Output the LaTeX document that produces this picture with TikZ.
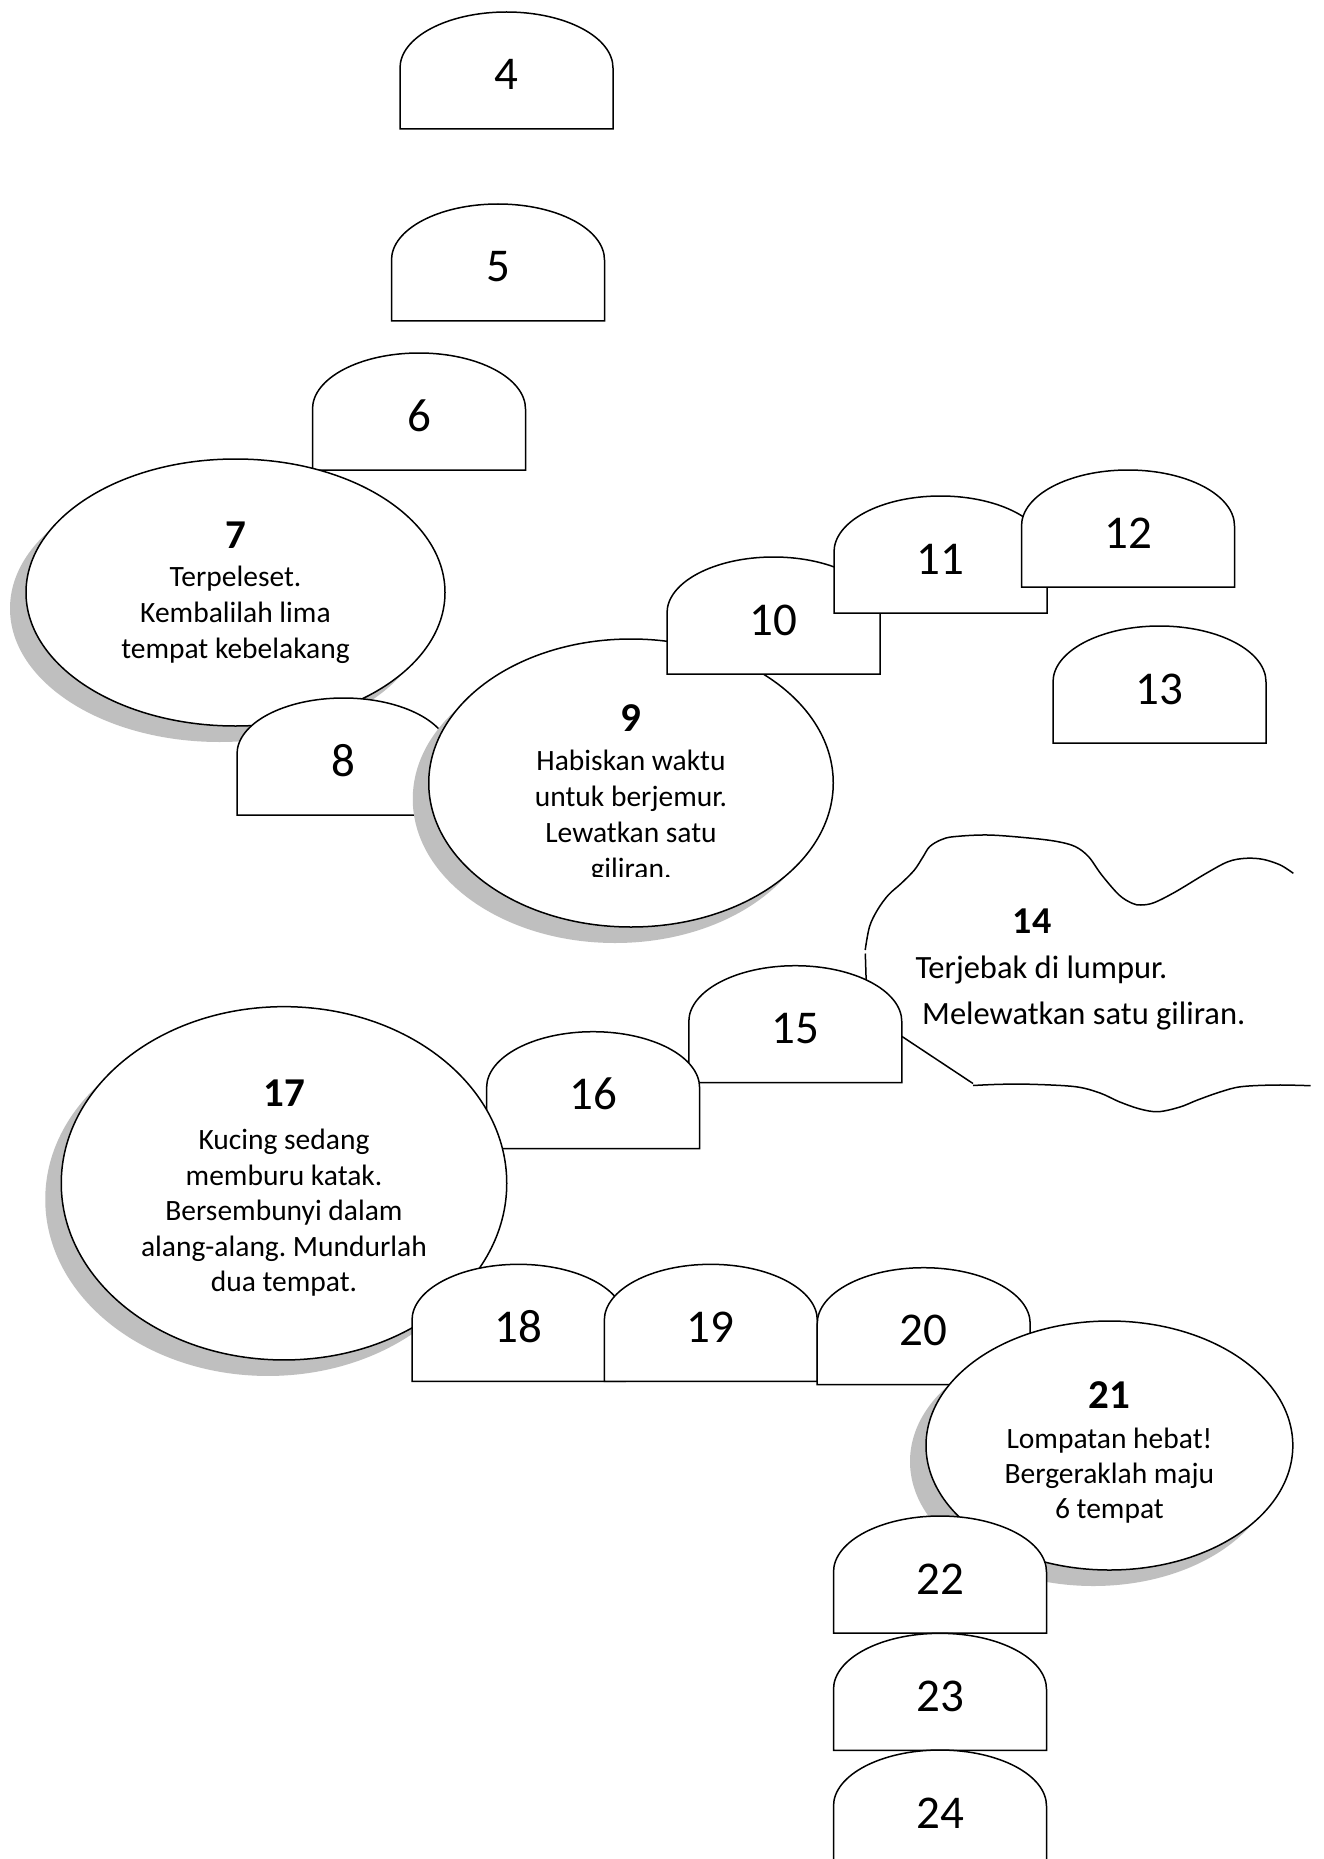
\documentclass[tikz,border=0pt]{standalone}
\usepackage{fontspec}
\setmainfont{Carlito}
\usetikzlibrary{shapes.geometric,shadows}
\definecolor{shadowgray}{RGB}{191,191,191}
\frenchspacing

\newcommand\gametab[4]{%
  \pgfmathsetmacro\tbR{#2+213}%
  \pgfmathsetmacro\tbC{#2+106.5}%
  \pgfmathsetmacro\tbB{#3+117}%
  \pgfmathsetmacro\tbS{#3+56}%
  \pgfmathsetmacro\tbK{#3+56-0.5523*56}%
  \pgfmathsetmacro\tbCL{#2+106.5-0.5523*106.5}%
  \pgfmathsetmacro\tbCR{#2+106.5+0.5523*106.5}%
  \pgfmathsetmacro\tbN{#3+78}%
  \path[outline] (#2,\tbB) -- (#2,\tbS) .. controls (#2,\tbK) and (\tbCL,#3) .. (\tbC,#3) .. controls (\tbCR,#3) and (\tbR,\tbK) .. (\tbR,\tbS) -- (\tbR,\tbB) -- cycle;
  \node[tabnum] (#1) at (\tbC,\tbN) {#4};
}

\begin{document}
\begin{tikzpicture}[x=1pt,y=-1pt,
  outline/.style={draw=black,line width=1.5pt,fill=white},
  cloudline/.style={draw=black,line width=1.5pt},
  tabnum/.style={font=\fontsize{47}{56}\selectfont,anchor=base,inner sep=0pt},
  bignum/.style={font=\bfseries\fontsize{41}{48}\selectfont,anchor=base,inner sep=0pt},
  bodytxt/.style={font=\fontsize{29.5}{35}\selectfont,anchor=base,inner sep=0pt},
  cloudtxt/.style={font=\fontsize{32.5}{38}\selectfont,anchor=base west,inner sep=0pt},
  bubble/.style={ellipse,outline,inner sep=0pt,
    drop shadow={shadow xshift=-16pt,shadow yshift=-16pt,fill=shadowgray,opacity=1}},
]
\useasboundingbox[fill=white] (0,0) rectangle (1323,1859);

% tabs 4-6
\gametab{n4}{400}{12}{4}
\gametab{n5}{391.5}{204}{5}
\gametab{n6}{312.5}{353}{6}

% bubble 7
\node[bubble,minimum width=419pt,minimum height=267pt] (e7) at (235.5,592.5) {};
\node[bignum] (t7n) at (235.5,548) {7};
\node[bodytxt] (t7a) at (235.5,586.5) {Terpeleset.};
\node[bodytxt] (t7b) at (235.5,622.5) {Kembalilah lima};
\node[bodytxt] (t7c) at (235.5,658.5) {tempat kebelakang};

\gametab{n8}{237}{698}{8}

% bubble 9
\node[bubble,minimum width=404.5pt,minimum height=288pt] (e9) at (631,783) {};
\node[bignum] (t9n) at (631,731) {9};
\node[bodytxt] (t9a) at (631,770) {Habiskan waktu};
\node[bodytxt] (t9b) at (631,806) {untuk berjemur.};
\node[bodytxt] (t9c) at (631,842) {Lewatkan satu};
\begin{scope}
  \clip (420,850) rectangle (840,876);
  \node[bodytxt] (t9d) at (631,878) {giliran.};
\end{scope}

\gametab{n10}{667}{557}{10}
\gametab{n11}{834}{496}{11}
\gametab{n12}{1021.5}{470}{12}
\gametab{n13}{1053}{626}{13}

% cloud 14
\path[cloudline] plot[smooth,tension=0.55] coordinates {(865.2,950) (869.5,926.7) (877.4,910) (888.3,895) (901.3,883.3) (914.4,870) (923.1,856.7) (929.6,846.7) (940.5,840) (953.6,836.7) (988.4,835) (1032,838.3) (1058.1,841.7) (1075.5,846.7) (1088.6,856.7) (1101.7,875) (1119.1,895) (1132.2,903.3) (1140.9,905) (1153.9,902.7) (1175.7,891.7) (1206.2,873.3) (1228,861.7) (1245.4,858.3) (1262.8,859.3) (1280.3,865) (1293.3,873.3)};
\path[cloudline] (865.3,953.5) -- (866.3,985) -- (862,1010) -- (973,1083.5);
\path[cloudline] plot[smooth,tension=0.55] coordinates {(973,1085.5) (1000,1084.3) (1032,1084.3) (1075.5,1086.7) (1100,1093) (1119.1,1101.7) (1140,1109) (1158.3,1111.7) (1180,1107) (1197.5,1100) (1220,1092) (1241,1086.7) (1275.9,1085) (1310.7,1085.7)};
\node[bignum,font=\bfseries\fontsize{38}{44}\selectfont] (t14n) at (1032,933.5) {14};
\node[cloudtxt] (t14a) at (915.3,978) {Terjebak di lumpur.};
\node[cloudtxt] (t14b) at (922,1024.5) {Melewatkan satu giliran.};

\gametab{n15}{688.8}{965.7}{15}
\gametab{n16}{486.6}{1031.7}{16}

% bubble 17
\node[bubble,minimum width=445.5pt,minimum height=353.3pt] (e17) at (284,1183.3) {};
\node[bignum] (t17n) at (284,1106) {17};
\node[bodytxt] (t17a) at (284,1149.5) {Kucing sedang};
\node[bodytxt] (t17b) at (284,1185) {memburu katak.};
\node[bodytxt] (t17c) at (284,1220.5) {Bersembunyi dalam};
\node[bodytxt] (t17d) at (284,1256) {alang-alang. Mundurlah};
\node[bodytxt] (t17e) at (284,1291.5) {dua tempat.};

\gametab{n18}{412}{1264.3}{18}
\gametab{n19}{604.3}{1264.3}{19}
\gametab{n20}{817.2}{1267.7}{20}

% bubble 21
\node[bubble,minimum width=366.8pt,minimum height=249pt] (e21) at (1109.4,1445.5) {};
\node[bignum] (t21n) at (1109.4,1408) {21};
\node[bodytxt] (t21a) at (1109.4,1448) {Lompatan hebat!};
\node[bodytxt] (t21b) at (1109.4,1483) {Bergeraklah maju};
\node[bodytxt] (t21c) at (1109.4,1518) {6 tempat};

\gametab{n22}{833.5}{1516}{22}
\gametab{n23}{833.5}{1633.3}{23}
\gametab{n24}{833.5}{1750}{24}
\end{tikzpicture}
\end{document}
